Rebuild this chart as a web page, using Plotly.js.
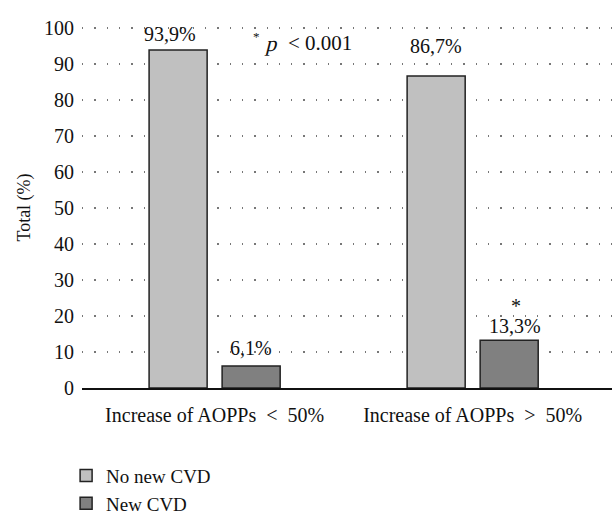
<!DOCTYPE html>
<html>
<head>
<meta charset="utf-8">
<script src="https://cdn.plot.ly/plotly-3.0.1.min.js"></script>
<style>
  html, body { margin: 0; padding: 0; background: #fff; }
  #chart { width: 616px; height: 526px; }
</style>
</head>
<body>
<div id="chart"></div>
<script>
// ---- data ----
var categories = ["Increase of AOPPs\u00a0\u00a0<\u00a0\u00a050%", "Increase of AOPPs\u00a0\u00a0>\u00a0\u00a050%"];
var seriesNames = ["No new CVD", "New CVD"];
var noNewCVD = [93.9, 86.7];
var newCVD = [6.1, 13.3];
var noNewLabels = ["93,9%", "86,7%"];
var newLabels = ["6,1%", "13,3%"];
var significant = [false, true];
var yTicks = [0, 10, 20, 30, 40, 50, 60, 70, 80, 90, 100];
var pStar = "*";
var pSymbol = "p";
var pValue = "< 0.001";

// ---- styles ----
var FONT = "\"Liberation Serif\", \"DejaVu Serif\", serif";
var colors = ["#c0c0c0", "#808080"];
var slotOffset = 36.5; // px offset of each bar from group centre
var labelShift = {
  noNew: [{dx: -8, dy: 3}, {dx: 0, dy: 17}],
  newC: [{dx: 0, dy: 5}, {dx: 6, dy: 1}]
};

var traces = [
  {
    type: "bar", name: seriesNames[0], x: categories, y: noNewCVD,
    marker: {color: colors[0], line: {color: "#222", width: 1.5}}
  },
  {
    type: "bar", name: seriesNames[1], x: categories, y: newCVD,
    marker: {color: colors[1], line: {color: "#222", width: 1.5}}
  }
];

var annotations = [];
categories.forEach(function (c, i) {
  annotations.push({
    x: c, y: noNewCVD[i], xref: "x", yref: "y", text: noNewLabels[i],
    showarrow: false, xanchor: "center", yanchor: "bottom",
    xshift: -slotOffset + labelShift.noNew[i].dx, yshift: labelShift.noNew[i].dy,
    font: {family: FONT, size: 20, color: "#111"}
  });
  annotations.push({
    x: c, y: newCVD[i], xref: "x", yref: "y", text: newLabels[i],
    showarrow: false, xanchor: "center", yanchor: "bottom",
    xshift: slotOffset + labelShift.newC[i].dx, yshift: labelShift.newC[i].dy,
    font: {family: FONT, size: 20, color: "#111"}
  });
  if (significant[i]) {
    annotations.push({
      x: c, y: newCVD[i], xref: "x", yref: "y", text: pStar,
      showarrow: false, xanchor: "center", yanchor: "middle",
      xshift: slotOffset + labelShift.newC[i].dx + 1, yshift: 34,
      font: {family: FONT, size: 20, color: "#111"}
    });
  }
});
annotations.push({
  x: 0.33, y: 0.975, xref: "paper", yref: "paper", text: pStar,
  showarrow: false, xanchor: "center", yanchor: "middle",
  font: {family: FONT, size: 13, color: "#111"}
});
annotations.push({
  x: 0.345, y: 0.953, xref: "paper", yref: "paper", text: pSymbol,
  showarrow: false, xanchor: "left", yanchor: "middle",
  font: {family: FONT, size: 22, color: "#111"}
});
annotations.push({
  x: 0.384, y: 0.956, xref: "paper", yref: "paper", text: pValue,
  showarrow: false, xanchor: "left", yanchor: "middle",
  font: {family: FONT, size: 21, color: "#111"}
});

var layout = {
  width: 616, height: 526,
  margin: {l: 82, r: 4, t: 27, b: 135},
  font: {family: FONT, size: 19, color: "#111"},
  barmode: "group",
  bargap: 0.434,
  bargroupgap: 0.205,
  legend: {
    x: -0.03, xanchor: "left", y: -0.19, yanchor: "top",
    font: {family: FONT, size: 19, color: "#111"}
  },
  xaxis: {
    type: "category",
    range: [-0.514, 1.54],
    showline: true, linecolor: "#111", linewidth: 1.8,
    ticks: "", showgrid: false, zeroline: false,
    tickfont: {family: FONT, size: 20, color: "#111"},
    ticklabelstandoff: 8
  },
  yaxis: {
    range: [0, 100.3],
    tickvals: yTicks,
    ticktext: yTicks.map(String),
    showline: false, ticks: "", zeroline: false,
    showgrid: true, gridcolor: "#777", gridwidth: 1.3, griddash: "1.3px,11px",
    tickfont: {family: FONT, size: 20, color: "#111"},
    ticklabelstandoff: 7,
    title: {text: "Total (%)", font: {family: FONT, size: 18, color: "#111"}, standoff: 8}
  },
  annotations: annotations
};

Plotly.newPlot("chart", traces, layout, {displayModeBar: false, staticPlot: true}).then(function () {
  // slant the "p" of the p-value note (geometric skew, no italic font needed)
  document.querySelectorAll("g.annotation text").forEach(function (t) {
    if (t.textContent === pSymbol) {
      t.style.transformBox = "fill-box";
      t.style.transformOrigin = "center";
      t.style.transform = "skewX(-14deg)";
    }
  });
});
</script>
</body>
</html>
